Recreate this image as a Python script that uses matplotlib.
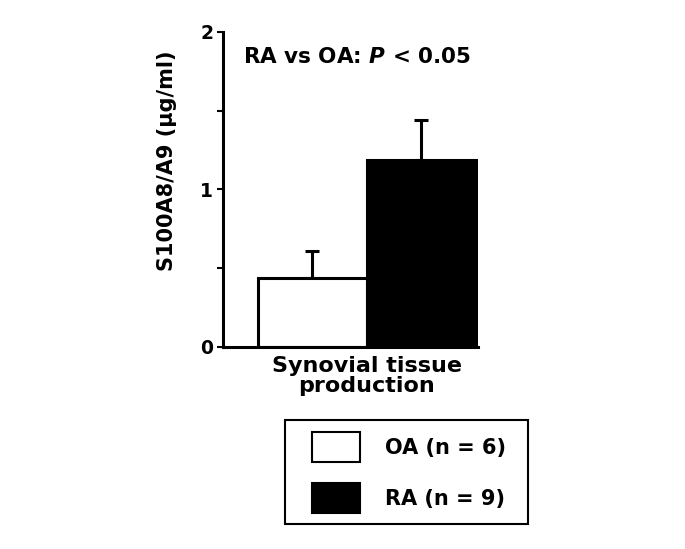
import matplotlib
matplotlib.use("Agg")
import matplotlib.pyplot as plt
from matplotlib.patches import Patch, Rectangle

plt.rcParams['font.family'] = ['DejaVu Sans']
plt.rcParams['font.weight'] = 'bold'
plt.rcParams['axes.labelweight'] = 'bold'
plt.rcParams['mathtext.fontset'] = 'dejavusans'

# Data
groups = ["OA (n = 6)", "RA (n = 9)"]
means = [0.44, 1.19]
sems = [0.17, 0.25]
colors = ["white", "black"]
yticks = [0, 0.5, 1, 1.5, 2]
ytick_labels = ["0", "", "1", "", "2"]

W, H = 685, 549
fig = plt.figure(figsize=(6.85, 5.49), dpi=100)
ax = fig.add_axes([0.3255, 0.368, 0.372, 0.5738])

x = [0, 1]
lw = 2.2
ax.bar(x, means, width=1.0, color=colors, edgecolor="black", linewidth=lw,
       zorder=2)
ax.errorbar(x, means, yerr=[[0, 0], sems], fmt="none", ecolor="black",
            elinewidth=lw, capsize=5, capthick=lw, zorder=1)

ax.set_xlim(-0.818, 1.52)
ax.set_ylim(0, 2)
ax.set_yticks(yticks)
ax.set_yticklabels(ytick_labels, fontsize=13.5)
ax.set_xticks([])
ax.spines['top'].set_visible(False)
ax.spines['right'].set_visible(False)
ax.spines['left'].set_linewidth(lw)
ax.spines['bottom'].set_linewidth(lw)
ax.tick_params(axis='y', length=4, width=1.5, pad=3)

ax.set_ylabel("S100A8/A9 (µg/ml)", fontsize=15)
ax.yaxis.set_label_coords(-0.18, 0.59)
ax.set_xlabel("Synovial tissue\nproduction", fontsize=16, linespacing=0.95)
ax.xaxis.set_label_coords(0.565, -0.03)

ax.text(0.078, 0.92, "RA vs OA: $\\mathbfit{P}$ < 0.05", transform=ax.transAxes,
        fontsize=15.5, ha="left", va="center")

# legend box drawn separately so the paddings can follow the original
fig.add_artist(Rectangle((285 / W, 1 - 524 / H), 243 / W, 104 / H,
                         transform=fig.transFigure, facecolor="none",
                         edgecolor="black", linewidth=1.5))
handles = [Patch(facecolor=c, edgecolor="black", linewidth=1.5) for c in colors]
leg = fig.legend(handles, groups, loc="upper left",
                 bbox_to_anchor=(312 / W, 1 - 432 / H),
                 fontsize=15, frameon=False,
                 handlelength=2.3, handleheight=1.81, handletextpad=1.2,
                 borderpad=0, labelspacing=1.03, borderaxespad=0)

fig.savefig("out.png", dpi=100)
